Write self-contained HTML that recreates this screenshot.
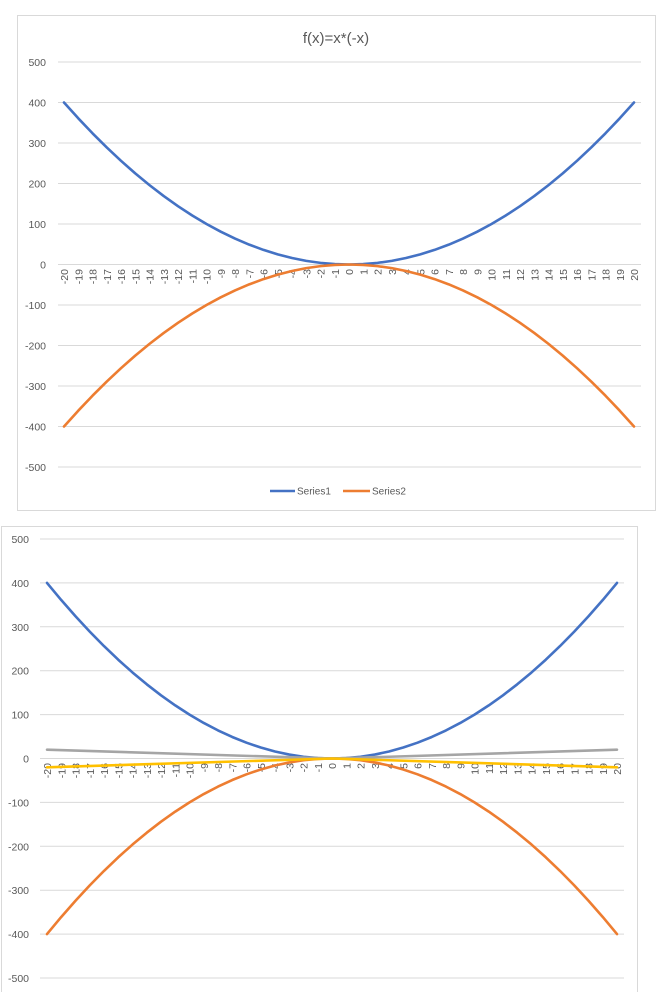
<!DOCTYPE html>
<html><head><meta charset="utf-8"><style>
html,body{margin:0;padding:0;background:#fff;}
svg{display:block;font-family:"Liberation Sans",sans-serif;}
.yl{font-size:10.5px;fill:#595959;text-anchor:end;}
.xl{font-size:10.5px;fill:#595959;text-anchor:end;}
.g{stroke:#d9d9d9;stroke-width:1;}
.s{fill:none;stroke-width:2.6;stroke-linejoin:round;stroke-linecap:round;}
</style></head><body>
<svg width="660" height="992" viewBox="0 0 660 992">
<rect x="17.5" y="15.5" width="638" height="495" fill="#fff" stroke="#d9d9d9"/>
<text x="336" y="43" font-size="15" fill="#595959" text-anchor="middle">f(x)=x*(-x)</text>
<g class="g">
<line x1="58" x2="641" y1="62" y2="62"/><line x1="58" x2="641" y1="102.5" y2="102.5"/><line x1="58" x2="641" y1="143" y2="143"/><line x1="58" x2="641" y1="183.5" y2="183.5"/><line x1="58" x2="641" y1="224" y2="224"/><line x1="58" x2="641" y1="264.5" y2="264.5"/><line x1="58" x2="641" y1="305" y2="305"/><line x1="58" x2="641" y1="345.5" y2="345.5"/><line x1="58" x2="641" y1="386" y2="386"/><line x1="58" x2="641" y1="426.5" y2="426.5"/><line x1="58" x2="641" y1="467" y2="467"/>
</g>
<g class="yl">
<text x="46" y="66">500</text><text x="46" y="147">300</text><text x="46" y="106.5">400</text><text x="46" y="187.5">200</text><text x="46" y="228">100</text><text x="46" y="268.5">0</text><text x="46" y="309">-100</text><text x="46" y="349.5">-200</text><text x="46" y="390">-300</text><text x="46" y="430.5">-400</text><text x="46" y="471">-500</text>
</g>
<g transform="translate(349,269) rotate(-90)" class="xl">
<text x="0" y="-281">-20</text><text x="0" y="-266.75">-19</text><text x="0" y="-252.5">-18</text><text x="0" y="-238.25">-17</text><text x="0" y="-224">-16</text><text x="0" y="-209.75">-15</text><text x="0" y="-195.5">-14</text><text x="0" y="-181.25">-13</text><text x="0" y="-167">-12</text><text x="0" y="-152.75">-11</text><text x="0" y="-138.5">-10</text><text x="0" y="-124.25">-9</text><text x="0" y="-110">-8</text><text x="0" y="-95.75">-7</text><text x="0" y="-81.5">-6</text><text x="0" y="-67.25">-5</text><text x="0" y="-53">-4</text><text x="0" y="-38.75">-3</text><text x="0" y="-24.5">-2</text><text x="0" y="-10.25">-1</text><text x="0" y="4">0</text><text x="0" y="18.25">1</text><text x="0" y="32.5">2</text><text x="0" y="46.75">3</text><text x="0" y="61">4</text><text x="0" y="75.25">5</text><text x="0" y="89.5">6</text><text x="0" y="103.75">7</text><text x="0" y="118">8</text><text x="0" y="132.25">9</text><text x="0" y="146.5">10</text><text x="0" y="160.75">11</text><text x="0" y="175">12</text><text x="0" y="189.25">13</text><text x="0" y="203.5">14</text><text x="0" y="217.75">15</text><text x="0" y="232">16</text><text x="0" y="246.25">17</text><text x="0" y="260.5">18</text><text x="0" y="274.75">19</text><text x="0" y="289">20</text>
</g>
<defs>
<polyline id="sq" points="-20,400 -19,361 -18,324 -17,289 -16,256 -15,225 -14,196 -13,169 -12,144 -11,121 -10,100 -9,81 -8,64 -7,49 -6,36 -5,25 -4,16 -3,9 -2,4 -1,1 0,0 1,1 2,4 3,9 4,16 5,25 6,36 7,49 8,64 9,81 10,100 11,121 12,144 13,169 14,196 15,225 16,256 17,289 18,324 19,361 20,400"/>
</defs>
<polyline class="s" stroke="#4472c4" vector-effect="non-scaling-stroke" transform="matrix(14.25,0,0,-0.405,349,264.5)" points="-20,400 -19,361 -18,324 -17,289 -16,256 -15,225 -14,196 -13,169 -12,144 -11,121 -10,100 -9,81 -8,64 -7,49 -6,36 -5,25 -4,16 -3,9 -2,4 -1,1 0,0 1,1 2,4 3,9 4,16 5,25 6,36 7,49 8,64 9,81 10,100 11,121 12,144 13,169 14,196 15,225 16,256 17,289 18,324 19,361 20,400"/>
<polyline class="s" stroke="#ed7d31" vector-effect="non-scaling-stroke" transform="matrix(14.25,0,0,0.405,349,264.5)" points="-20,400 -19,361 -18,324 -17,289 -16,256 -15,225 -14,196 -13,169 -12,144 -11,121 -10,100 -9,81 -8,64 -7,49 -6,36 -5,25 -4,16 -3,9 -2,4 -1,1 0,0 1,1 2,4 3,9 4,16 5,25 6,36 7,49 8,64 9,81 10,100 11,121 12,144 13,169 14,196 15,225 16,256 17,289 18,324 19,361 20,400"/>
<line x1="270" x2="295" y1="491" y2="491" stroke="#4472c4" stroke-width="2.5"/>
<text x="297" y="494.5" font-size="10" fill="#595959">Series1</text>
<line x1="343" x2="370" y1="491" y2="491" stroke="#ed7d31" stroke-width="2.5"/>
<text x="372" y="494.5" font-size="10" fill="#595959">Series2</text>

<rect x="1.5" y="526.5" width="636" height="470" fill="#fff" stroke="#d9d9d9"/>
<g class="g">
<line x1="40" x2="624" y1="539" y2="539"/><line x1="40" x2="624" y1="582.9" y2="582.9"/><line x1="40" x2="624" y1="626.8" y2="626.8"/><line x1="40" x2="624" y1="670.7" y2="670.7"/><line x1="40" x2="624" y1="714.6" y2="714.6"/><line x1="40" x2="624" y1="758.5" y2="758.5"/><line x1="40" x2="624" y1="802.4" y2="802.4"/><line x1="40" x2="624" y1="846.3" y2="846.3"/><line x1="40" x2="624" y1="890.2" y2="890.2"/><line x1="40" x2="624" y1="934.1" y2="934.1"/><line x1="40" x2="624" y1="978" y2="978"/>
</g>
<g class="yl">
<text x="29" y="543">500</text><text x="29" y="586.9">400</text><text x="29" y="630.8">300</text><text x="29" y="674.7">200</text><text x="29" y="718.6">100</text><text x="29" y="762.5">0</text><text x="29" y="806.4">-100</text><text x="29" y="850.3">-200</text><text x="29" y="894.2">-300</text><text x="29" y="938.1">-400</text><text x="29" y="982">-500</text>
</g>
<g transform="translate(332,763) rotate(-90)" class="xl">
<text x="0" y="-281">-20</text><text x="0" y="-266.75">-19</text><text x="0" y="-252.5">-18</text><text x="0" y="-238.25">-17</text><text x="0" y="-224">-16</text><text x="0" y="-209.75">-15</text><text x="0" y="-195.5">-14</text><text x="0" y="-181.25">-13</text><text x="0" y="-167">-12</text><text x="0" y="-152.75">-11</text><text x="0" y="-138.5">-10</text><text x="0" y="-124.25">-9</text><text x="0" y="-110">-8</text><text x="0" y="-95.75">-7</text><text x="0" y="-81.5">-6</text><text x="0" y="-67.25">-5</text><text x="0" y="-53">-4</text><text x="0" y="-38.75">-3</text><text x="0" y="-24.5">-2</text><text x="0" y="-10.25">-1</text><text x="0" y="4">0</text><text x="0" y="18.25">1</text><text x="0" y="32.5">2</text><text x="0" y="46.75">3</text><text x="0" y="61">4</text><text x="0" y="75.25">5</text><text x="0" y="89.5">6</text><text x="0" y="103.75">7</text><text x="0" y="118">8</text><text x="0" y="132.25">9</text><text x="0" y="146.5">10</text><text x="0" y="160.75">11</text><text x="0" y="175">12</text><text x="0" y="189.25">13</text><text x="0" y="203.5">14</text><text x="0" y="217.75">15</text><text x="0" y="232">16</text><text x="0" y="246.25">17</text><text x="0" y="260.5">18</text><text x="0" y="274.75">19</text><text x="0" y="289">20</text>
</g>
<polyline class="s" stroke="#4472c4" vector-effect="non-scaling-stroke" transform="matrix(14.25,0,0,-0.439,332,758.5)" points="-20,400 -19,361 -18,324 -17,289 -16,256 -15,225 -14,196 -13,169 -12,144 -11,121 -10,100 -9,81 -8,64 -7,49 -6,36 -5,25 -4,16 -3,9 -2,4 -1,1 0,0 1,1 2,4 3,9 4,16 5,25 6,36 7,49 8,64 9,81 10,100 11,121 12,144 13,169 14,196 15,225 16,256 17,289 18,324 19,361 20,400"/>
<polyline class="s" stroke="#ed7d31" vector-effect="non-scaling-stroke" transform="matrix(14.25,0,0,0.439,332,758.5)" points="-20,400 -19,361 -18,324 -17,289 -16,256 -15,225 -14,196 -13,169 -12,144 -11,121 -10,100 -9,81 -8,64 -7,49 -6,36 -5,25 -4,16 -3,9 -2,4 -1,1 0,0 1,1 2,4 3,9 4,16 5,25 6,36 7,49 8,64 9,81 10,100 11,121 12,144 13,169 14,196 15,225 16,256 17,289 18,324 19,361 20,400"/>
<polyline class="s" stroke="#a5a5a5" vector-effect="non-scaling-stroke" transform="matrix(14.25,0,0,-0.439,332,758.5)" points="-20,20 0,0 20,20"/>
<polyline class="s" stroke="#ffc000" vector-effect="non-scaling-stroke" transform="matrix(14.25,0,0,0.439,332,758.5)" points="-20,20 0,0 20,20"/>
</svg>
</body></html>
